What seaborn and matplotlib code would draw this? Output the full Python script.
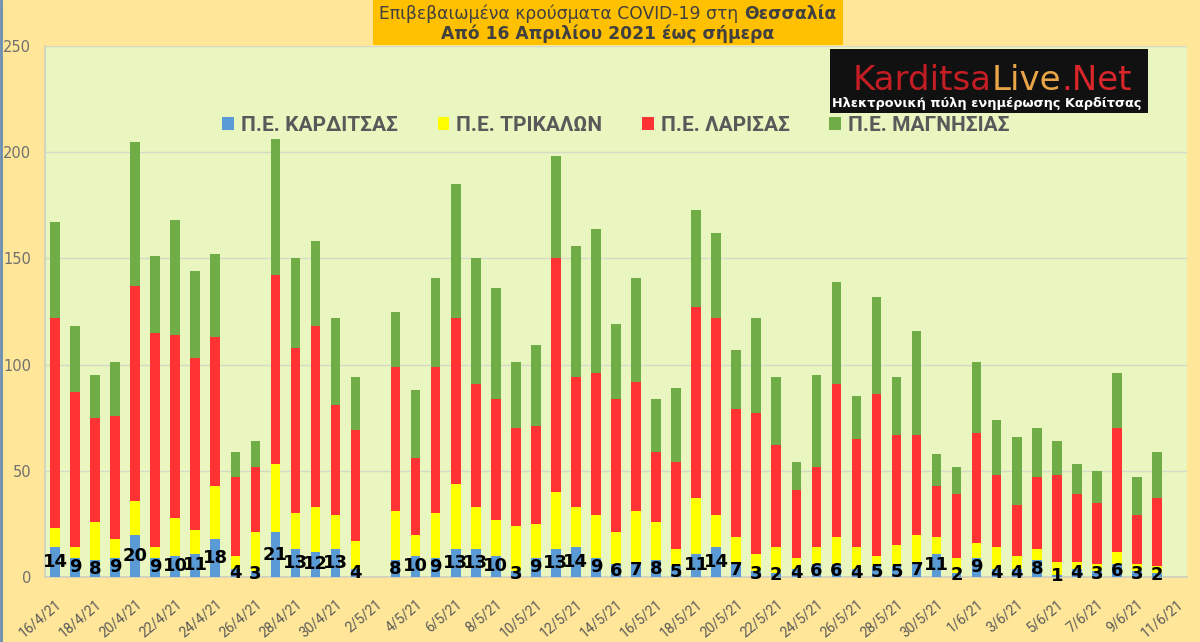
import numpy as np
import pandas as pd
import matplotlib
matplotlib.use("Agg")
import matplotlib.pyplot as plt
import seaborn as sns
from matplotlib.patches import Rectangle, Patch
from matplotlib.lines import Line2D

dates = ["16/4/21", "17/4/21", "18/4/21", "19/4/21", "20/4/21", "21/4/21", "22/4/21", "23/4/21",
         "24/4/21", "25/4/21", "26/4/21", "27/4/21", "28/4/21", "29/4/21", "30/4/21", "1/5/21",
         "2/5/21", "3/5/21", "4/5/21", "5/5/21", "6/5/21", "7/5/21", "8/5/21", "9/5/21",
         "10/5/21", "11/5/21", "12/5/21", "13/5/21", "14/5/21", "15/5/21", "16/5/21", "17/5/21",
         "18/5/21", "19/5/21", "20/5/21", "21/5/21", "22/5/21", "23/5/21", "24/5/21", "25/5/21",
         "26/5/21", "27/5/21", "28/5/21", "29/5/21", "30/5/21", "31/5/21", "1/6/21", "2/6/21",
         "3/6/21", "4/6/21", "5/6/21", "6/6/21", "7/6/21", "8/6/21", "9/6/21", "10/6/21", "11/6/21"]

nan = np.nan
karditsa = [14, 9, 8, 9, 20, 9, 10, 11, 18, 4, 3, 21, 13, 12, 13, 4,
            nan, 8, 10, 9, 13, 13, 10, 3, 9, 13, 14, 9, 6, 7, 8, 5,
            11, 14, 7, 3, 2, 4, 6, 6, 4, 5, 5, 7, 11, 2, 9, 4,
            4, 8, 1, 4, 3, 6, 3, 2, nan]
trikala = [9, 5, 18, 9, 16, 5, 18, 11, 25, 6, 18, 32, 17, 21, 16, 13,
           nan, 23, 10, 21, 31, 20, 17, 21, 16, 27, 19, 20, 15, 24, 18, 8,
           26, 15, 12, 8, 12, 5, 8, 13, 10, 5, 10, 13, 8, 7, 7, 10,
           6, 5, 6, 3, 3, 6, 3, 3, nan]
larisa = [99, 73, 49, 58, 101, 101, 86, 81, 70, 37, 31, 89, 78, 85, 52, 52,
          nan, 68, 36, 69, 78, 58, 57, 46, 46, 110, 61, 67, 63, 61, 33, 41,
          90, 93, 60, 66, 48, 32, 38, 72, 51, 76, 52, 47, 24, 30, 52, 34,
          24, 34, 41, 32, 29, 58, 23, 32, nan]
magnisia = [45, 31, 20, 25, 68, 36, 54, 41, 39, 12, 12, 64, 42, 40, 41, 25,
            nan, 26, 32, 42, 63, 59, 52, 31, 38, 48, 62, 68, 35, 49, 25, 35,
            46, 40, 28, 45, 32, 13, 43, 48, 20, 46, 27, 49, 15, 13, 33, 26,
            32, 23, 16, 14, 15, 26, 18, 22, nan]

series_names = ["Π.Ε. ΚΑΡΔΙΤΣΑΣ", "Π.Ε. ΤΡΙΚΑΛΩΝ", "Π.Ε. ΛΑΡΙΣΑΣ", "Π.Ε. ΜΑΓΝΗΣΙΑΣ"]
colors = ["#5B9BD5", "#FFFF00", "#FF3333", "#70AD47"]
yticks = [0, 50, 100, 150, 200, 250]

title1a = "Επιβεβαιωμένα κρούσματα COVID-19 στη "
title1b = "Θεσσαλία"
title2 = "Από 16 Απριλίου 2021 έως σήμερα"

# ---------------------------------------------------------------
sns.set_theme(style="white")
plt.rcParams["font.family"] = ["DejaVu Sans"]

W, H = 1200, 642
fig = plt.figure(figsize=(W / 100, H / 100), dpi=100)
fig.patch.set_facecolor("#FFE699")

ax = fig.add_axes([45 / W, 1 - 577 / H, (1187 - 45) / W, (577 - 46) / H])
ax.set_facecolor("#EAF6C0")

df = pd.DataFrame({"date": dates, "k": karditsa, "t": trikala, "l": larisa, "m": magnisia})
df["c1"] = df["k"]
df["c2"] = df["c1"] + df["t"]
df["c3"] = df["c2"] + df["l"]
df["c4"] = df["c3"] + df["m"]

layers = ["c4", "c3", "c2", "c1"]
layer_colors = colors[::-1]
for col, colr in zip(layers, layer_colors):
    sub = df.dropna(subset=[col])
    sns.barplot(data=sub, x="date", y=col, order=dates, color=colr, saturation=1,
                width=0.48, errorbar=None, ax=ax, zorder=3, linewidth=0)

blue_container = ax.containers[-1]
blue_vals = df.dropna(subset=["k"])["k"].astype(int).tolist()
ax.bar_label(blue_container, labels=[str(v) for v in blue_vals], label_type="center",
             fontsize=13, fontweight="bold", color="black", zorder=6)

ax.set_xlim(-0.5, len(dates) - 0.5)
ax.set_ylim(0, 250)
ax.set_yticks(yticks)
ax.set_yticklabels([str(v) for v in yticks])
ax.grid(axis="y", color="#D4D9C8", linewidth=1, zorder=0)
ax.set_axisbelow(True)
ax.set_xlabel("")
ax.set_ylabel("")
for s in ["top", "right"]:
    ax.spines[s].set_visible(False)
ax.spines["bottom"].set_color("#D0D0C0")
ax.spines["left"].set_visible(True)
ax.spines["left"].set_color("#D0D0C0")

tick_pos = list(range(0, len(dates), 2))
ax.set_xticks(tick_pos)
ax.set_xticklabels([dates[i] for i in tick_pos], rotation=40, ha="right", va="top",
                   rotation_mode="anchor", fontsize=10, color="#595959",
                   family=["Roboto", "DejaVu Sans"])
ax.tick_params(axis="x", length=0, pad=14)
ax.tick_params(axis="y", length=0, pad=10, labelsize=10.5, labelcolor="#707070")

handles = [Patch(facecolor=c, edgecolor="none") for c in colors]
leg = ax.legend(handles, series_names, ncol=4, loc="center", bbox_to_anchor=(0.500, 0.851),
                frameon=False, handlelength=0.55, handleheight=0.55, handletextpad=0.35,
                columnspacing=1.9,
                prop={"family": ["Roboto", "DejaVu Sans"], "weight": "bold", "size": 15})
for t in leg.get_texts():
    t.set_color("#595959")
leg.set_zorder(7)

# Title box
fig.add_artist(Rectangle((373 / W, 1 - 45 / H), 470 / W, 45 / H, transform=fig.transFigure,
                         facecolor="#FFC000", edgecolor="none", zorder=1))
fig.canvas.draw()
r = fig.canvas.get_renderer()
ta = fig.text(0, 1 - 14 / H, title1a, fontsize=12.3, color="#404040", va="center", ha="left")
tb = fig.text(0, 1 - 14 / H, title1b, fontsize=12.3, color="#404040", va="center", ha="left",
              fontweight="bold")
wa = ta.get_window_extent(r).width
wb = tb.get_window_extent(r).width
x0 = 608 - (wa + wb) / 2
ta.set_x(x0 / W)
tb.set_x((x0 + wa) / W)
fig.text(608 / W, 1 - 34 / H, title2, fontsize=12.3, color="#404040", va="center",
         ha="center", fontweight="bold")

# Logo box
fig.add_artist(Rectangle((830 / W, 1 - 113 / H), 318 / W, 64 / H, transform=fig.transFigure,
                         facecolor="#111111", edgecolor="none", zorder=8))
parts = [("Karditsa", "#C41E24"), ("Live", "#E9A548"), (".Net", "#D9262A")]
objs = []
for txt, c in parts:
    o = fig.text(0, 1 - 80 / H, txt, fontsize=24.5, color=c, va="center", ha="left", zorder=9)
    objs.append(o)
widths = [o.get_window_extent(r).width for o in objs]
xx = 992 - sum(widths) / 2
for o, w_ in zip(objs, widths):
    o.set_x(xx / W)
    xx += w_
fig.text(987 / W, 1 - 104 / H, "Ηλεκτρονική πύλη ενημέρωσης Καρδίτσας", fontsize=9.3,
         color="white", fontweight="bold", va="center", ha="center", zorder=9)

# thin left border
fig.add_artist(Line2D([1 / W, 1 / W], [0, 1], transform=fig.transFigure, color="#6A8DB5",
                      linewidth=2, zorder=10))

fig.savefig("out.png", dpi=100, facecolor=fig.get_facecolor())
